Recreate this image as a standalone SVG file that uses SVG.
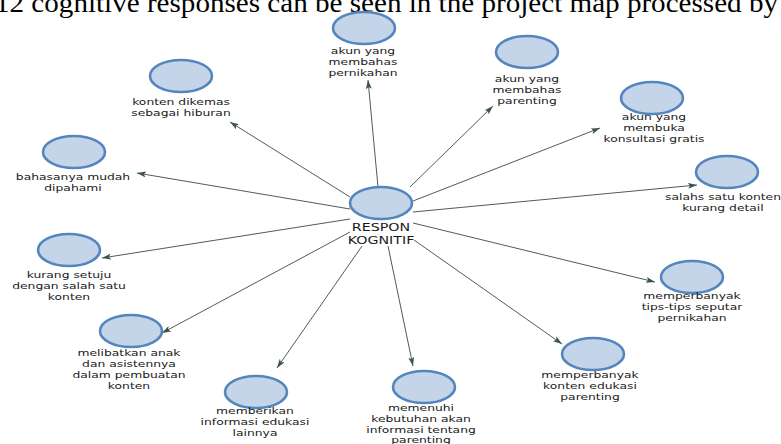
<svg xmlns="http://www.w3.org/2000/svg" width="781" height="444" viewBox="0 0 781 444">
<style>
.bg{fill:#ffffff}
.hdr{font-family:"Liberation Serif","Times New Roman",serif;font-size:27px;fill:#000}
.edge{stroke:#505c58;stroke-width:1;fill:none}
.nd{fill:#c5d5e9;stroke:#5585bd;stroke-width:2.6}
.lbl{font-family:"DejaVu Sans",Verdana,sans-serif;font-size:9.5px;fill:#1a1a1a;text-anchor:middle}
.clbl{font-family:"DejaVu Sans",Verdana,sans-serif;font-size:10.8px;fill:#1a1a1a;text-anchor:middle}
</style>
<defs>
<marker id="arr" markerUnits="userSpaceOnUse" markerWidth="9" markerHeight="6" refX="9" refY="3" orient="auto">
<path d="M0,0 L9,3 L0,6 L2,3 z" fill="#3e534d"/>
</marker>
</defs>
<rect class="bg" x="0" y="0" width="781" height="444"/>
<text class="hdr" x="-5" y="12" textLength="783" lengthAdjust="spacingAndGlyphs">12 cognitive responses can be seen in the project map processed by</text>

<g id="connectors">
<line class="edge" x1="378" y1="187" x2="368" y2="80" marker-end="url(#arr)"/>
<line class="edge" x1="350" y1="197" x2="230" y2="122" marker-end="url(#arr)"/>
<line class="edge" x1="410" y1="187" x2="493" y2="106" marker-end="url(#arr)"/>
<line class="edge" x1="413" y1="201" x2="600" y2="128" marker-end="url(#arr)"/>
<line class="edge" x1="413" y1="212" x2="697" y2="185" marker-end="url(#arr)"/>
<line class="edge" x1="413" y1="223" x2="655" y2="282" marker-end="url(#arr)"/>
<line class="edge" x1="414" y1="240" x2="562" y2="344" marker-end="url(#arr)"/>
<line class="edge" x1="388" y1="246" x2="413" y2="366" marker-end="url(#arr)"/>
<line class="edge" x1="362" y1="246" x2="277" y2="368" marker-end="url(#arr)"/>
<line class="edge" x1="350" y1="232" x2="162" y2="333" marker-end="url(#arr)"/>
<line class="edge" x1="350" y1="219" x2="102" y2="258" marker-end="url(#arr)"/>
<line class="edge" x1="350" y1="209" x2="137" y2="173" marker-end="url(#arr)"/>
</g>

<g id="node-center">
<ellipse class="nd" cx="381" cy="203" rx="31" ry="16"/>
<text class="clbl" transform="translate(381 0) scale(1.32 1)"><tspan x="0" y="231">RESPON</tspan><tspan x="0" y="244">KOGNITIF</tspan></text>
</g>
<g id="node-pernikahan">
<ellipse class="nd" cx="364" cy="28" rx="31" ry="16"/>
<text class="lbl" transform="translate(363 0) scale(1.3 1)"><tspan x="0" y="54">akun yang</tspan><tspan x="0" y="65">membahas</tspan><tspan x="0" y="76">pernikahan</tspan></text>
</g>
<g id="node-hiburan">
<ellipse class="nd" cx="181" cy="76" rx="31" ry="16"/>
<text class="lbl" transform="translate(181 0) scale(1.3 1)"><tspan x="0" y="105">konten dikemas</tspan><tspan x="0" y="116">sebagai hiburan</tspan></text>
</g>
<g id="node-parenting">
<ellipse class="nd" cx="527" cy="52" rx="31" ry="16"/>
<text class="lbl" transform="translate(527 0) scale(1.3 1)"><tspan x="0" y="82">akun yang</tspan><tspan x="0" y="93">membahas</tspan><tspan x="0" y="104">parenting</tspan></text>
</g>
<g id="node-konsultasi">
<ellipse class="nd" cx="652" cy="98" rx="31" ry="16"/>
<text class="lbl" transform="translate(654 0) scale(1.3 1)"><tspan x="0" y="120">akun yang</tspan><tspan x="0" y="131">membuka</tspan><tspan x="0" y="142">konsultasi gratis</tspan></text>
</g>
<g id="node-detail">
<ellipse class="nd" cx="727" cy="172" rx="31" ry="16"/>
<text class="lbl" transform="translate(723 0) scale(1.3 1)"><tspan x="0" y="200">salahs satu konten</tspan><tspan x="0" y="211">kurang detail</tspan></text>
</g>
<g id="node-bahasa">
<ellipse class="nd" cx="74" cy="152" rx="31" ry="16"/>
<text class="lbl" transform="translate(73 0) scale(1.3 1)"><tspan x="0" y="180">bahasanya mudah</tspan><tspan x="0" y="191">dipahami</tspan></text>
</g>
<g id="node-setuju">
<ellipse class="nd" cx="69" cy="250" rx="31" ry="16"/>
<text class="lbl" transform="translate(69 0) scale(1.3 1)"><tspan x="0" y="278">kurang setuju</tspan><tspan x="0" y="289">dengan salah satu</tspan><tspan x="0" y="300">konten</tspan></text>
</g>
<g id="node-melibatkan">
<ellipse class="nd" cx="131" cy="331" rx="31" ry="16"/>
<text class="lbl" transform="translate(129 0) scale(1.3 1)"><tspan x="0" y="356">melibatkan anak</tspan><tspan x="0" y="367">dan asistennya</tspan><tspan x="0" y="378">dalam pembuatan</tspan><tspan x="0" y="389">konten</tspan></text>
</g>
<g id="node-memberikan">
<ellipse class="nd" cx="256" cy="392" rx="31" ry="16"/>
<text class="lbl" transform="translate(255 0) scale(1.3 1)"><tspan x="0" y="414">memberikan</tspan><tspan x="0" y="425">informasi edukasi</tspan><tspan x="0" y="436">lainnya</tspan></text>
</g>
<g id="node-memenuhi">
<ellipse class="nd" cx="424" cy="387" rx="31" ry="16"/>
<text class="lbl" transform="translate(421 0) scale(1.3 1)"><tspan x="0" y="411">memenuhi</tspan><tspan x="0" y="421.8">kebutuhan akan</tspan><tspan x="0" y="432.6">informasi tentang</tspan><tspan x="0" y="443.4">parenting</tspan></text>
</g>
<g id="node-edukasi">
<ellipse class="nd" cx="593" cy="354" rx="31" ry="16"/>
<text class="lbl" transform="translate(590 0) scale(1.3 1)"><tspan x="0" y="378">memperbanyak</tspan><tspan x="0" y="389">konten edukasi</tspan><tspan x="0" y="400">parenting</tspan></text>
</g>
<g id="node-tips">
<ellipse class="nd" cx="692" cy="277" rx="31" ry="16"/>
<text class="lbl" transform="translate(692 0) scale(1.3 1)"><tspan x="0" y="299">memperbanyak</tspan><tspan x="0" y="310">tips-tips seputar</tspan><tspan x="0" y="321">pernikahan</tspan></text>
</g>
</svg>
